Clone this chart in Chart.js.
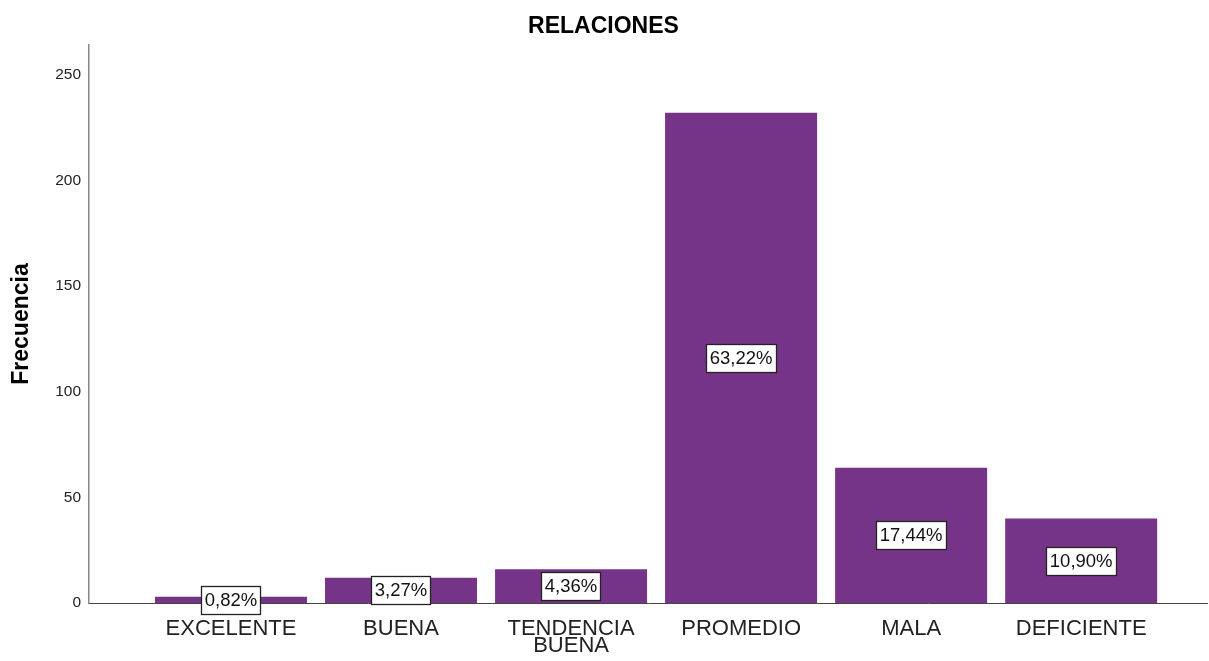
<!DOCTYPE html>
<html>
<head>
<meta charset="utf-8">
<script src="https://cdn.jsdelivr.net/npm/chart.js@4/dist/chart.umd.min.js"></script>
<style>
html,body{margin:0;padding:0;background:#fff;}
#wrap{width:1209px;height:661px;}
</style>
</head>
<body>
<div id="wrap"><canvas id="c" width="1209" height="661"></canvas></div>
<script>
const categories = ["EXCELENTE", "BUENA", ["TENDENCIA", "BUENA"], "PROMEDIO", "MALA", "DEFICIENTE"];
const frequencies = [3, 12, 16, 232, 64, 40];
const percentLabels = ["0,82%", "3,27%", "4,36%", "63,22%", "17,44%", "10,90%"];
const yTicks = [0, 50, 100, 150, 200, 250];

const barColor = "#753488";

const labelPlugin = {
  id: "pctLabels",
  afterDatasetsDraw(chart) {
    const ctx = chart.ctx;
    const meta = chart.getDatasetMeta(0);
    ctx.save();
    ctx.font = "18.5px 'Liberation Sans', Arial, sans-serif";
    ctx.textAlign = "center";
    ctx.textBaseline = "middle";
    meta.data.forEach((bar, i) => {
      const txt = percentLabels[i];
      const cx = bar.x;
      const cy = (bar.y + bar.base) / 2;
      const w = ctx.measureText(txt).width + 7;
      const h = 28;
      ctx.fillStyle = "#fff";
      ctx.fillRect(Math.round(cx - w / 2) + 0.5, Math.round(cy - h / 2) + 0.5, Math.round(w), h);
      ctx.strokeStyle = "#222";
      ctx.lineWidth = 1.3;
      ctx.strokeRect(Math.round(cx - w / 2) + 0.5, Math.round(cy - h / 2) + 0.5, Math.round(w), h);
      ctx.fillStyle = "#111";
      ctx.fillText(txt, cx, cy + 1);
    });
    ctx.restore();
  }
};

new Chart(document.getElementById("c"), {
  type: "bar",
  data: {
    datasets: [{
      data: frequencies.map((v, i) => ({ x: i, y: v })),
      backgroundColor: barColor,
      borderWidth: 0,
      barPercentage: 0.894,
      categoryPercentage: 1.0
    }]
  },
  options: {
    responsive: false,
    animation: false,
    devicePixelRatio: 1,
    layout: { padding: { left: 0, right: 2, top: 0, bottom: 0 } },
    plugins: {
      legend: { display: false },
      tooltip: { enabled: false },
      title: {
        display: true,
        text: "RELACIONES",
        color: "#000",
        font: { family: "'Liberation Sans', Arial, sans-serif", size: 23, weight: "bold" },
        padding: { top: 13, bottom: 4.4 }
      }
    },
    scales: {
      x: {
        type: "linear",
        min: -0.835,
        max: 5.74,
        offset: false,
        grid: { display: false, drawTicks: false },
        border: { display: true, color: "#444", width: 1 },
        afterBuildTicks(scale) { scale.ticks = categories.map((c, i) => ({ value: i })); },
        afterFit(scale) { scale.height = 58; },
        ticks: {
          autoSkip: false,
          maxRotation: 0,
          minRotation: 0,
          padding: 17,
          color: "#222",
          font: { family: "'Liberation Sans', Arial, sans-serif", size: 22, lineHeight: 0.8 },
          callback: (v) => categories[v]
        }
      },
      y: {
        min: 0,
        max: 264,
        grid: { display: false, drawTicks: false },
        border: { display: true, color: "#888", width: 1.5 },
        afterBuildTicks(scale) { scale.ticks = yTicks.map(v => ({ value: v })); },
        afterFit(scale) { scale.width = 89; },
        title: {
          display: true,
          text: "Frecuencia",
          color: "#000",
          font: { family: "'Liberation Sans', Arial, sans-serif", size: 23, weight: "bold" },
          padding: { top: 8, bottom: 0 }
        },
        ticks: {
          padding: 8,
          color: "#222",
          font: { family: "'Liberation Sans', Arial, sans-serif", size: 15.5 }
        }
      }
    }
  },
  plugins: [labelPlugin]
});
</script>
</body>
</html>
